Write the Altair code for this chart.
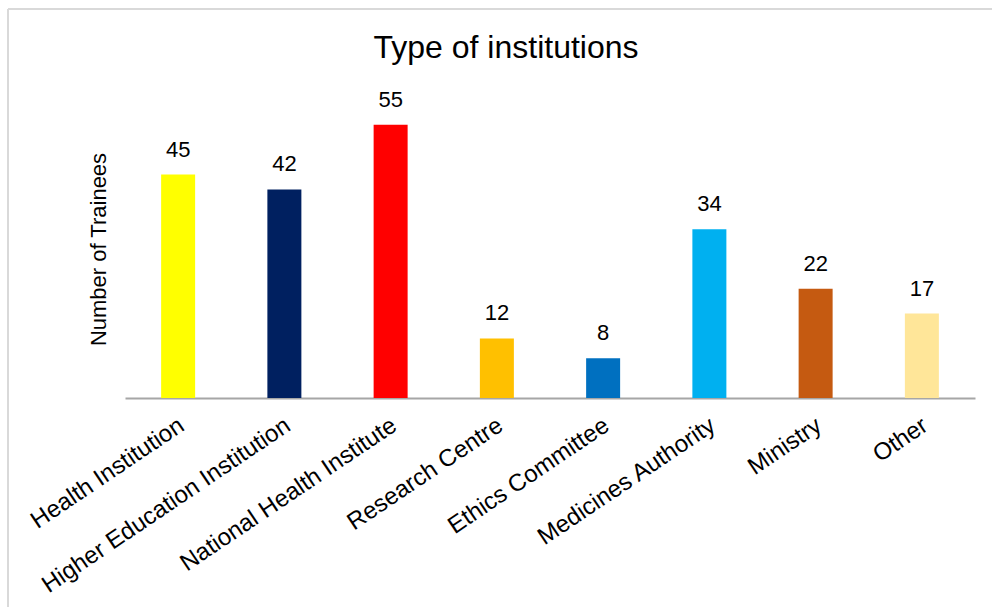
import altair as alt
import pandas as pd

categories = ["Health Institution", "Higher Education Institution", "National Health Institute",
              "Research Centre", "Ethics Committee", "Medicines Authority", "Ministry", "Other"]
values = [45, 42, 55, 12, 8, 34, 22, 17]
colors = ["#FFFF00", "#002060", "#FF0000", "#FFC000", "#0070C0", "#00B0F0", "#C55A11", "#FFE699"]

df = pd.DataFrame({"cat": categories, "val": values, "col": colors})

FONT = "Liberation Sans"

x_enc = alt.X("cat:N", sort=categories,
              scale=alt.Scale(paddingInner=0, paddingOuter=0),
              axis=alt.Axis(title=None, labelAngle=-34, labelAlign="right", labelBaseline="top",
                            labelPadding=15, labelOffset=-3, labelFontSize=24, labelFont=FONT,
                            labelColor="#000000", ticks=False, domainColor="#a6a6a6",
                            domainWidth=2, labelLimit=0))
y_enc = alt.Y("val:Q", scale=alt.Scale(domain=[0, 60], nice=False),
              axis=alt.Axis(title="Number of Trainees", labels=False, ticks=False, domain=False,
                            grid=False, titleFont=FONT, titleFontSize=22, titleFontWeight="normal",
                            titleColor="#000000", titlePadding=15))

bars = alt.Chart(df).mark_bar(width=34).encode(
    x=x_enc, y=y_enc, color=alt.Color("col:N", scale=None)
)
labels = alt.Chart(df).mark_text(dy=-18, baseline="alphabetic", fontSize=22, font=FONT,
                                 color="#000000").encode(
    x=alt.X("cat:N", sort=categories), y="val:Q", text="val:Q"
)

border_left = alt.Chart(df).mark_rule(color="#d9d9d9", strokeWidth=2).encode(
    x=alt.value(-117), y=alt.value(-91), y2=alt.value(520))
border_top = alt.Chart(df).mark_rule(color="#d9d9d9", strokeWidth=2).encode(
    x=alt.value(-117), x2=alt.value(880), y=alt.value(-91))

chart = alt.layer(border_left, border_top, bars, labels).properties(
    width=850, height=298,
    background="white",
    title=alt.TitleParams("Type of institutions", font=FONT, fontSize=32, fontWeight="normal",
                          color="#000000", anchor="middle", dx=-44, offset=-57),
    autosize=alt.AutoSizeParams(type="none"),
    padding={"left": 125, "top": 100, "right": 17, "bottom": 209},
).configure_view(stroke=None, strokeWidth=0)

chart.save("out.html", embed_options={"renderer": "svg", "actions": False})
